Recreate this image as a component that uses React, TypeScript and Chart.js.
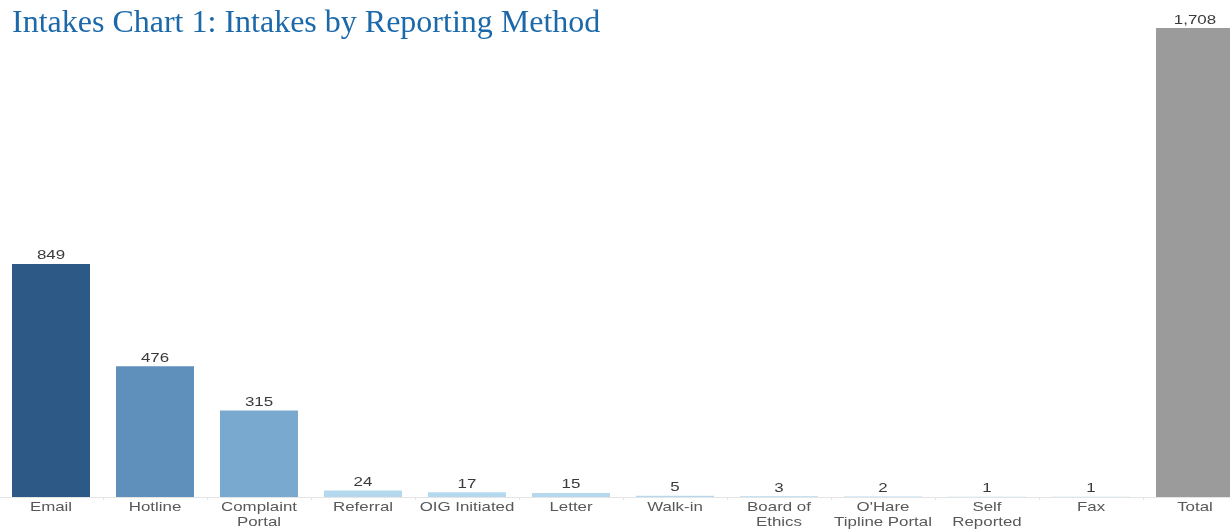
import React, { useEffect, useRef } from "react";
import { Chart, registerables } from "chart.js";

Chart.register(...registerables);

const categories: string[][] = [
  ["Email"],
  ["Hotline"],
  ["Complaint", "Portal"],
  ["Referral"],
  ["OIG Initiated"],
  ["Letter"],
  ["Walk-in"],
  ["Board of", "Ethics"],
  ["O'Hare", "Tipline Portal"],
  ["Self", "Reported"],
  ["Fax"],
  ["Total"],
];
const values: number[] = [849, 476, 315, 24, 17, 15, 5, 3, 2, 1, 1, 1708];
const barColors: string[] = [
  "#2c5985",
  "#5f8fbb",
  "#7aa9d0",
  "#b4d9ef",
  "#b4d9ef",
  "#b4d9ef",
  "#b4d9ef",
  "#b4d9ef",
  "#b4d9ef",
  "#b4d9ef",
  "#b4d9ef",
  "#9b9b9b",
];
const titleText = "Intakes Chart 1: Intakes by Reporting Method";

const FONT = '"Liberation Sans", Arial, sans-serif';

const stretchedText = (ctx: any, text: string, x: number, y: number, sx: number) => {
  ctx.save();
  ctx.translate(x, y);
  ctx.scale(sx, 1);
  ctx.fillText(text, 0, 0);
  ctx.restore();
};

const valueLabels = {
  id: "valueLabels",
  afterDatasetsDraw(chart: any) {
    const ctx = chart.ctx;
    const meta = chart.getDatasetMeta(0);
    ctx.save();
    ctx.font = `13px ${FONT}`;
    ctx.fillStyle = "#3a3a3a";
    ctx.textAlign = "center";
    ctx.textBaseline = "alphabetic";
    meta.data.forEach((bar: any, i: number) => {
      stretchedText(ctx, values[i].toLocaleString("en-US"), bar.x, bar.y - 4.5, 1.3);
    });
    ctx.restore();
  },
};

const categoryLabels = {
  id: "categoryLabels",
  afterDraw(chart: any) {
    const ctx = chart.ctx;
    const xs = chart.scales.x;
    const base = chart.chartArea.bottom;
    ctx.save();
    ctx.font = `13.5px ${FONT}`;
    ctx.fillStyle = "#585858";
    ctx.textAlign = "center";
    ctx.textBaseline = "middle";
    categories.forEach((lines, i) => {
      const x = xs.getPixelForValue(i);
      lines.forEach((line, j) => {
        stretchedText(ctx, line, x, base + 10 + j * 15, 1.25);
      });
    });
    ctx.restore();
  },
};

export default function App() {
  const ref = useRef<HTMLCanvasElement | null>(null);
  useEffect(() => {
    if (!ref.current) return;
    const chart = new Chart(ref.current, {
      type: "bar",
      data: {
        labels: categories.map((l) => l.join(" ")),
        datasets: [
          {
            data: values,
            backgroundColor: barColors,
            borderWidth: 0,
            barPercentage: 0.75,
            categoryPercentage: 1,
          },
        ],
      },
      options: {
        responsive: false,
        animation: false,
        devicePixelRatio: 1,
        layout: { padding: { top: 0, left: 0, right: 0, bottom: 30 } },
        plugins: {
          legend: { display: false },
          tooltip: { enabled: false },
          title: { display: false },
        },
        scales: {
          x: {
            offset: true,
            border: { display: true, color: "#e4e4e4", width: 1 },
            grid: {
              offset: true,
              drawOnChartArea: false,
              drawTicks: true,
              tickLength: 3,
              color: "#e4e4e4",
            },
            ticks: { display: false },
          },
          y: {
            display: false,
            min: 0,
            max: 1810,
          },
        },
      },
      plugins: [valueLabels, categoryLabels],
    });
    return () => chart.destroy();
  }, []);

  return (
    <div
      style={{
        position: "fixed",
        left: 0,
        top: 0,
        width: 1230,
        height: 529,
        overflow: "hidden",
        background: "#ffffff",
      }}
    >
      <canvas
        ref={ref}
        width={1248}
        height={530}
        style={{ position: "absolute", left: -1, top: 0, width: 1248, height: 530 }}
      />
      <div
        style={{
          position: "absolute",
          left: 12,
          top: 5,
          fontFamily: '"Liberation Serif", "DejaVu Serif", serif',
          fontSize: 32,
          color: "#1c69aa",
          whiteSpace: "nowrap",
          lineHeight: "32px",
        }}
      >
        {titleText}
      </div>
    </div>
  );
}
